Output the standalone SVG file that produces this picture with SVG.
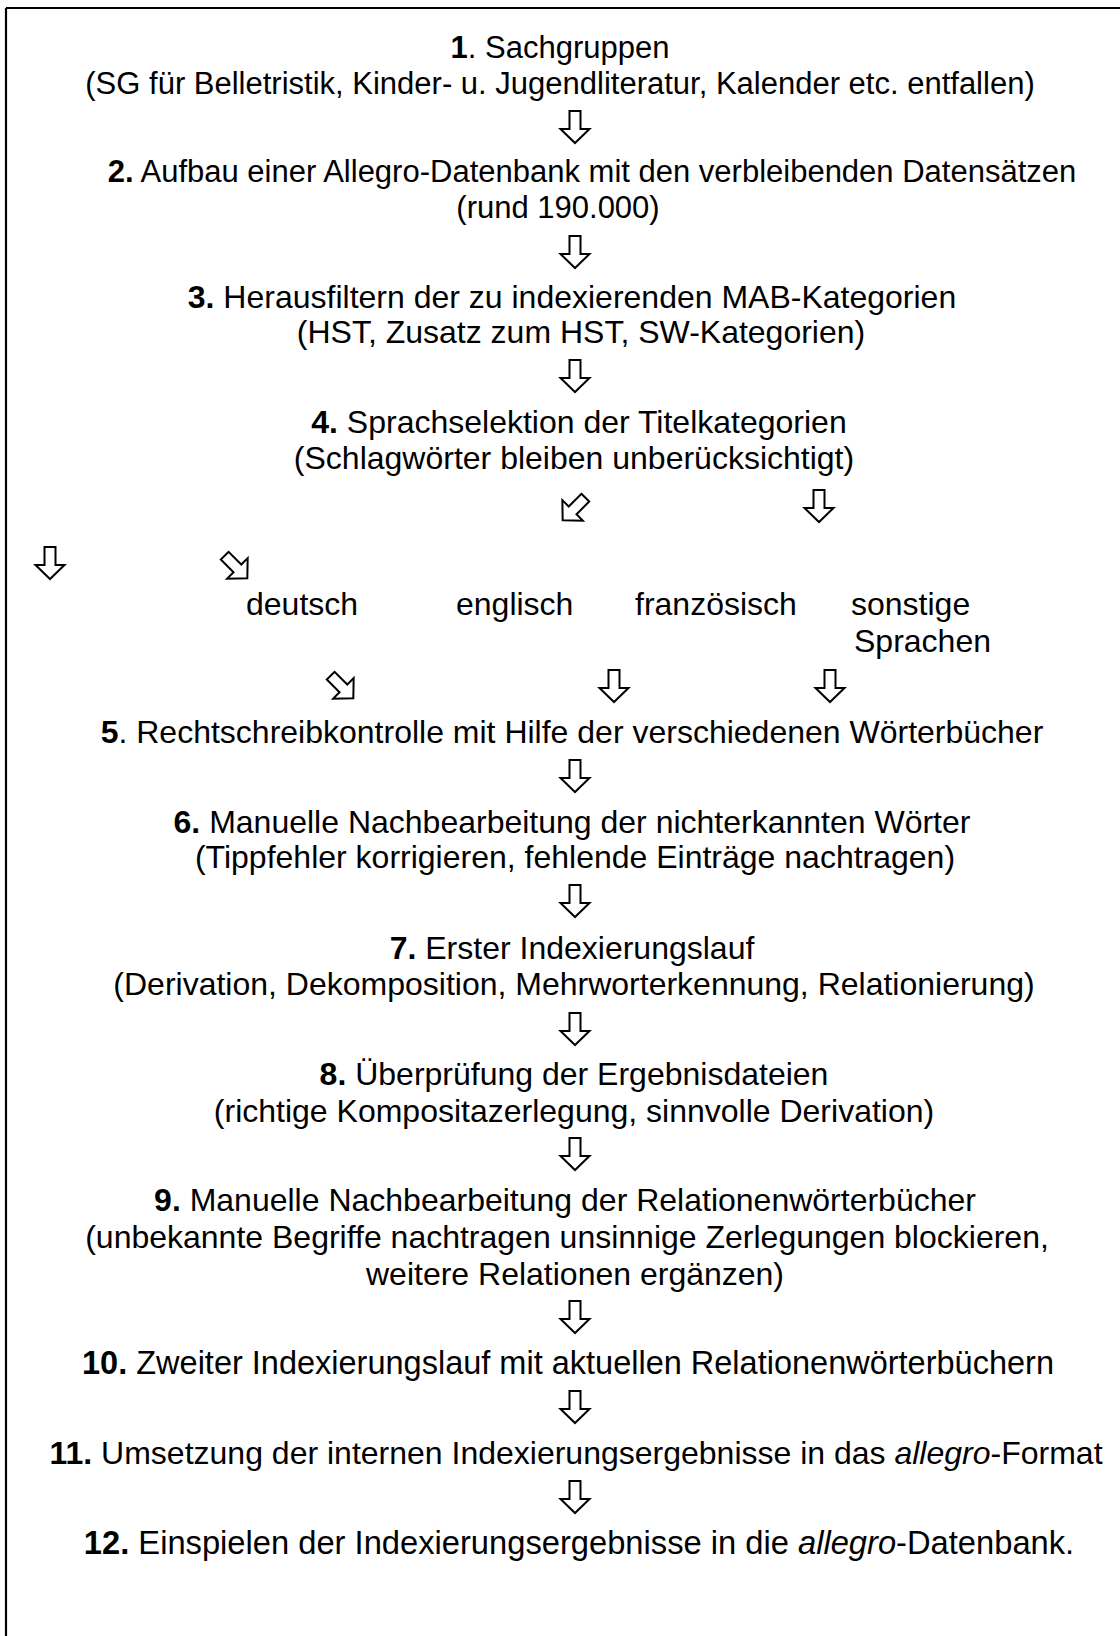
<svg xmlns="http://www.w3.org/2000/svg" xmlns:xlink="http://www.w3.org/1999/xlink" width="1120" height="1636" viewBox="0 0 1120 1636">
<style>
text{font-family:"Liberation Sans",Arial,sans-serif;font-size:32px;fill:#000}
.s{font-size:31px}
.c{text-anchor:middle}
.b{font-weight:bold}
.i{font-style:italic}
.arr{fill:#fff;stroke:#000;stroke-width:2;stroke-linejoin:miter}
</style>
<defs>
<path id="down" class="arr" d="M-5.5 -16H5.5V2H14.5L0 16L-14.5 2H-5.5Z"/>
</defs>
<rect width="1120" height="1636" fill="#fff"/>
<g id="frame" fill="none" stroke="#000" stroke-width="2.2">
<line x1="6" y1="8" x2="1120" y2="8"/>
<line x1="6" y1="8" x2="6" y2="1636"/>
</g>
<g id="n1"><text class="c s" x="560" y="58"><tspan class="b">1</tspan>. Sachgruppen</text>
<text class="c s" x="560" y="93.5">(SG für Belletristik, Kinder- u. Jugendliteratur, Kalender etc. entfallen)</text></g>
<g id="n2"><text class="c s" x="592" y="182"><tspan class="b">2.</tspan> Aufbau einer Allegro-Datenbank mit den verbleibenden Datensätzen</text>
<text class="c s" x="558" y="218">(rund 190.000)</text></g>
<g id="n3"><text class="c" x="572" y="307.5"><tspan class="b">3.</tspan> Herausfiltern der zu indexierenden MAB-Kategorien</text>
<text class="c" x="581" y="343">(HST, Zusatz zum HST, SW-Kategorien)</text></g>
<g id="n4"><text class="c" x="579" y="433"><tspan class="b">4.</tspan> Sprachselektion der Titelkategorien</text>
<text class="c" x="574" y="469">(Schlagwörter bleiben unberücksichtigt)</text></g>
<g id="lang-de"><text x="246" y="615">deutsch</text></g>
<g id="lang-en"><text x="456" y="615">englisch</text></g>
<g id="lang-fr"><text x="635" y="615">französisch</text></g>
<g id="lang-other"><text x="851" y="615">sonstige</text><text x="854" y="652">Sprachen</text></g>
<g id="n5"><text class="c" x="572" y="743"><tspan class="b">5</tspan>. Rechtschreibkontrolle mit Hilfe der verschiedenen Wörterbücher</text></g>
<g id="n6"><text class="c" x="572" y="832.5"><tspan class="b">6.</tspan> Manuelle Nachbearbeitung der nichterkannten Wörter</text>
<text class="c" x="575" y="868">(Tippfehler korrigieren, fehlende Einträge nachtragen)</text></g>
<g id="n7"><text class="c" x="572" y="959"><tspan class="b">7.</tspan> Erster Indexierungslauf</text>
<text class="c" x="574" y="995">(Derivation, Dekomposition, Mehrworterkennung, Relationierung)</text></g>
<g id="n8"><text class="c" x="574" y="1085"><tspan class="b">8.</tspan> Überprüfung der Ergebnisdateien</text>
<text class="c" x="574" y="1122">(richtige Kompositazerlegung, sinnvolle Derivation)</text></g>
<g id="n9"><text class="c" x="565" y="1211"><tspan class="b">9.</tspan> Manuelle Nachbearbeitung der Relationenwörterbücher</text>
<text class="c" x="567" y="1248">(unbekannte Begriffe nachtragen unsinnige Zerlegungen blockieren,</text>
<text class="c" x="575" y="1284.5">weitere Relationen ergänzen)</text></g>
<g id="n10"><text class="c" x="568" y="1374" style="font-size:32.5px"><tspan class="b">10.</tspan> Zweiter Indexierungslauf mit aktuellen Relationenwörterbüchern</text></g>
<g id="n11"><text class="c" x="576" y="1464"><tspan class="b">11.</tspan> Umsetzung der internen Indexierungsergebnisse in das <tspan class="i">allegro</tspan>-Format</text></g>
<g id="n12"><text class="c" x="579" y="1554" style="font-size:32.7px"><tspan class="b">12.</tspan> Einspielen der Indexierungsergebnisse in die <tspan class="i">allegro</tspan>-Datenbank.</text></g>
<g id="connectors">
<use href="#down" x="575" y="127"/>
<use href="#down" x="575" y="252"/>
<use href="#down" x="575" y="376"/>
<use href="#down" transform="translate(574 509) rotate(45)"/>
<use href="#down" x="819" y="506"/>
<use href="#down" x="50" y="563"/>
<use href="#down" transform="translate(236 567) rotate(-45)"/>
<use href="#down" transform="translate(342 687) rotate(-45)"/>
<use href="#down" x="614" y="686"/>
<use href="#down" x="830" y="686"/>
<use href="#down" x="575" y="776"/>
<use href="#down" x="575" y="901"/>
<use href="#down" x="575" y="1029"/>
<use href="#down" x="575" y="1154"/>
<use href="#down" x="575" y="1317"/>
<use href="#down" x="575" y="1407"/>
<use href="#down" x="575" y="1497"/>
</g>
</svg>
